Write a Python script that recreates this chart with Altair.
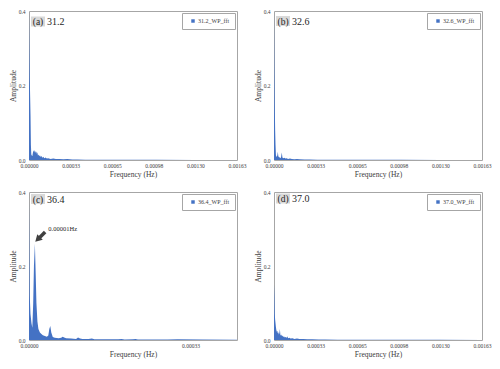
import altair as alt
import pandas as pd

FONT = "Liberation Serif"
BLUE = "#4472c4"
GREY = "#404040"

# ---- data (frequencies in units of 1e-5 Hz, amplitudes) ----
freq_a = [0, 0.3, 0.6, 0.9, 1.2, 1.5, 1.8, 2.2, 2.6, 3.0, 3.4, 3.8, 4.2, 4.6, 5.0, 5.4, 5.8,
          6.2, 6.6, 7.0, 7.5, 8.0, 8.6, 9.2, 9.8, 10.5, 11.2, 12, 13, 14, 15, 17, 19, 21,
          24, 27, 30, 34, 38, 44, 50, 60, 80, 100, 130, 163]
amp_a = [0.40, 0.30, 0.22, 0.17, 0.12, 0.04, 0.015, 0.012, 0.010, 0.018, 0.026, 0.022, 0.027,
         0.020, 0.024, 0.019, 0.023, 0.016, 0.021, 0.012, 0.015, 0.010, 0.013, 0.008, 0.011,
         0.006, 0.009, 0.005, 0.007, 0.004, 0.005, 0.003, 0.004, 0.003, 0.003, 0.002, 0.0025,
         0.0015, 0.0015, 0.001, 0.001, 0.0008, 0.0005, 0.0004, 0.0003, 0.0002]

freq_b = [0, 0.3, 0.6, 0.9, 1.2, 1.5, 1.8, 2.2, 2.6, 3.0, 3.4, 3.8, 4.2, 4.6, 5.0, 5.5, 6.1,
          6.6, 7.2, 8.0, 9.0, 10, 11, 12.5, 14, 16, 18, 20, 24, 28, 34, 40, 50, 70, 100, 130, 163]
amp_b = [0.40, 0.25, 0.15, 0.08, 0.04, 0.015, 0.008, 0.010, 0.012, 0.022, 0.010, 0.008, 0.006,
         0.008, 0.005, 0.007, 0.020, 0.007, 0.005, 0.006, 0.004, 0.005, 0.003, 0.004, 0.003,
         0.002, 0.003, 0.002, 0.0015, 0.0015, 0.001, 0.001, 0.0008, 0.0005, 0.0004, 0.0003, 0.0002]

freq_c = [0, 0.15, 0.3, 0.5, 0.67, 0.85, 1.0, 1.19, 1.35, 1.5, 1.7, 1.9, 2.2, 2.5, 2.8, 3.2,
          3.6, 3.9, 4.1, 4.3, 4.5, 4.8, 5.2, 6.0, 6.5, 6.8, 7.1, 7.5, 8.5, 9.5, 9.9, 10.3,
          10.8, 12, 12.7, 13.2, 15, 18, 18.7, 19.3, 21, 21.5, 22, 24, 28, 30, 35, 42]
amp_c = [0.38, 0.12, 0.07, 0.045, 0.033, 0.10, 0.20, 0.26, 0.18, 0.10, 0.05, 0.03, 0.02,
         0.016, 0.013, 0.011, 0.009, 0.012, 0.030, 0.038, 0.020, 0.008, 0.006, 0.005, 0.006,
         0.009, 0.007, 0.005, 0.004, 0.003, 0.007, 0.004, 0.003, 0.003, 0.004, 0.002, 0.002,
         0.002, 0.003, 0.0015, 0.002, 0.003, 0.0015, 0.0015, 0.0015, 0.002, 0.0015, 0.001]

freq_d = [0, 0.3, 0.6, 0.9, 1.2, 1.5, 1.8, 2.2, 2.6, 3.0, 3.4, 3.8, 4.2, 4.6, 5.0, 5.4, 5.8,
          6.2, 6.6, 7.2, 7.8, 8.5, 9.2, 10, 10.5, 11, 12, 13, 14.5, 16, 18, 20, 23, 26, 30,
          35, 40, 50, 60, 80, 100, 130, 163]
amp_d = [0.15, 0.12, 0.07, 0.055, 0.045, 0.035, 0.028, 0.022, 0.025, 0.018, 0.021, 0.015,
         0.018, 0.030, 0.014, 0.012, 0.015, 0.010, 0.012, 0.008, 0.010, 0.007, 0.008, 0.006,
         0.010, 0.005, 0.006, 0.004, 0.005, 0.003, 0.004, 0.003, 0.003, 0.002, 0.002, 0.0015,
         0.0015, 0.001, 0.001, 0.0007, 0.0005, 0.0004, 0.0003]

letters = ["(a)", "(b)", "(c)", "(d)"]
names = ["31.2", "32.6", "36.4", "37.0"]
x_max = [0.00163, 0.00163, 0.00042, 0.00163]
ticks_wide = [0, 0.000326, 0.000652, 0.000978, 0.001304, 0.00163]
ticks_c = [0, 0.000326]
y_ticks = [0, 0.2, 0.4]

# annotation in panel (c)
arrow_f = [3.26e-5, 1.85e-5]
arrow_a = [0.292, 0.273]
head_f = [1.746e-5]
head_a = [0.2717]
note_f = [3.9e-5]
note_a = [0.300]
note_txt = ["0.00001Hz"]

W = 208
H_TOP = 149
H_BOT = 148


def panel(i, freqs, amps, xticks, h, label_y):
    df = pd.DataFrame({"f": [v * 1e-5 for v in freqs], "a": amps,
                       "s": [names[i] + "_WP_fft"] * len(freqs)})
    area = alt.Chart(df).mark_area(clip=True, opacity=1, interpolate="linear").encode(
        x=alt.X("f:Q", scale=alt.Scale(domain=[0, x_max[i]], nice=False, zero=True),
                axis=alt.Axis(values=xticks, format=".5f", title="Frequency (Hz)")),
        y=alt.Y("a:Q", scale=alt.Scale(domain=[0, 0.4], nice=False),
                axis=alt.Axis(values=y_ticks, title="Amplitude")),
        color=alt.Color("s:N", scale=alt.Scale(range=[BLUE]),
                        legend=alt.Legend(title=None, orient="top-right", offset=2, padding=5,
                                          strokeColor="#a6a6a6", fillColor="white",
                                          symbolType="square", symbolSize=12,
                                          symbolStrokeWidth=0, symbolOffset=3,
                                          labelFont=FONT, labelFontSize=6,
                                          labelColor=GREY, labelOffset=2)),
    )
    lab = pd.DataFrame({"l": [letters[i]], "n": [names[i]]})
    box = alt.Chart(lab).mark_rect(color="#d9d9d9").encode(
        x=alt.value(2), x2=alt.value(16), y=alt.value(label_y - 5), y2=alt.value(label_y + 5))
    t1 = alt.Chart(lab).mark_text(font=FONT, fontSize=9.5, color="#262626",
                                  align="center", baseline="middle").encode(
        x=alt.value(9), y=alt.value(label_y + 0.5), text="l:N")
    t2 = alt.Chart(lab).mark_text(font=FONT, fontSize=10, color="#262626",
                                  align="left", baseline="middle").encode(
        x=alt.value(18), y=alt.value(label_y + 0.5), text="n:N")
    layers = [area, box, t1, t2]
    if i == 2:
        adf = pd.DataFrame({"f": arrow_f, "a": arrow_a})
        shaft = alt.Chart(adf).mark_line(color="#404040", strokeWidth=3.5, strokeCap="butt").encode(
            x="f:Q", y="a:Q")
        hdf = pd.DataFrame({"f": head_f, "a": head_a})
        head = alt.Chart(hdf).mark_point(shape="triangle-up", filled=True, color="#404040",
                                         size=60, angle=225, opacity=1).encode(x="f:Q", y="a:Q")
        ndf = pd.DataFrame({"f": note_f, "a": note_a, "t": note_txt})
        note = alt.Chart(ndf).mark_text(font=FONT, fontSize=6.5, color="#262626",
                                        align="left", baseline="middle").encode(
            x="f:Q", y="a:Q", text="t:N")
        layers += [shaft, head, note]
    return alt.layer(*layers).properties(width=W, height=h)


pa = panel(0, freq_a, amp_a, ticks_wide, H_TOP, 10.5)
pb = panel(1, freq_b, amp_b, ticks_wide, H_TOP, 10)
pc = panel(2, freq_c, amp_c, ticks_c, H_BOT, 7)
pd_ = panel(3, freq_d, amp_d, ticks_wide, H_BOT, 6.5)

chart = alt.concat(pa, pb, pc, pd_, columns=2, spacing={"row": 32, "column": 37},
                   bounds="flush", padding=0).resolve_scale(color="independent").resolve_legend(
    color="independent"
).configure_view(stroke="#a6a6a6", strokeWidth=1).configure_axis(
    labelFont=FONT, titleFont=FONT, labelFontSize=5.5, titleFontSize=7.5,
    labelColor=GREY, titleColor=GREY, titleFontWeight="normal",
    ticks=False, domain=False, grid=False,
).configure_axisX(labelFlush=False, labelPadding=3, titlePadding=2).configure_axisY(
    labelPadding=4, titlePadding=1)

chart.save("out.html", embed_options={"renderer": "svg", "actions": False})
